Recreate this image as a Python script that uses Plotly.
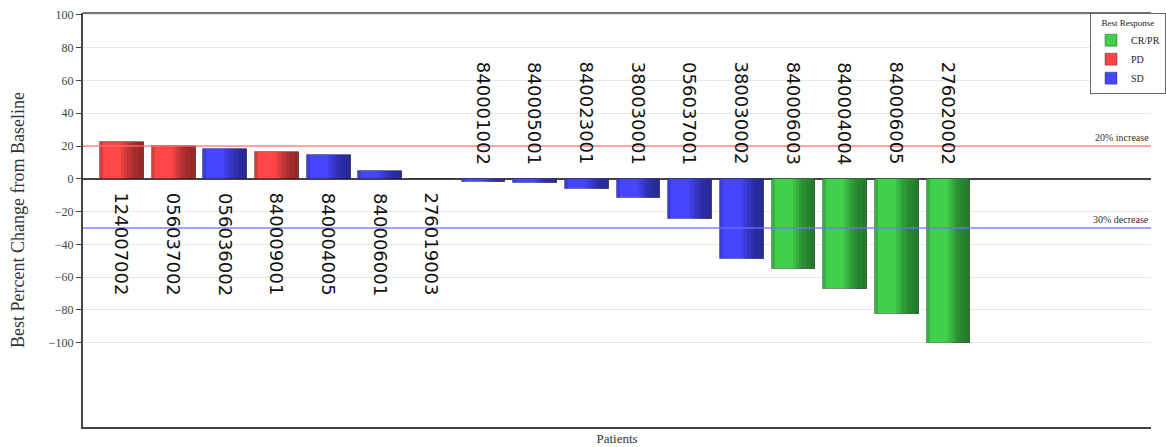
import plotly.graph_objects as go

patients = ["124007002", "056037002", "056036002", "840009001", "840004005",
            "840006001", "276019003", "840001002", "840005001", "840023001",
            "380030001", "056037001", "380030002", "840006003", "840004004",
            "840006005", "276020002"]
best_change = [22.5, 20, 18, 16.5, 14.5, 4.5, 0, -2, -2.5, -6, -12, -24.5,
               -49, -55, -67.5, -82.5, -100]
response = ["PD", "PD", "SD", "PD", "SD", "SD", "SD", "SD", "SD", "SD", "SD",
            "SD", "SD", "CR/PR", "CR/PR", "CR/PR", "CR/PR"]
legend_order = ["CR/PR", "PD", "SD"]
colors = {"CR/PR": "#40d04c", "PD": "#ff4646", "SD": "#4646ff"}
threshold_vals = [20, -30]
threshold_text = ["20% increase", "30% decrease"]
threshold_colors = ["rgba(255,110,110,0.8)", "rgba(110,110,255,0.85)"]

BW = 0.85
serif = "Liberation Serif, Times New Roman, serif"
pos = list(range(len(patients)))

fig = go.Figure()

# base bars, one trace per response group (for the legend)
for grp in legend_order:
    xs = [i for i, r in zip(pos, response) if r == grp]
    ys = [v for v, r in zip(best_change, response) if r == grp]
    names = [p for p, r in zip(patients, response) if r == grp]
    fig.add_trace(go.Bar(
        x=xs, y=ys, name=grp, width=BW, customdata=names,
        marker=dict(color=colors[grp], line=dict(color="rgba(40,40,40,0.4)", width=1)),
        hovertemplate="%{customdata}: %{y}<extra>" + grp + "</extra>",
    ))

# shading strips to mimic the horizontal gradient of each bar
strips = [(0.0, 0.07, 0.14), (0.48, 1.0, 0.08), (0.55, 1.0, 0.09), (0.62, 1.0, 0.10),
          (0.70, 1.0, 0.09), (0.78, 1.0, 0.07), (0.88, 1.0, 0.04)]
for f0, f1, a in strips:
    fig.add_trace(go.Bar(
        x=pos, y=best_change, width=BW * (f1 - f0), offset=-BW / 2 + BW * f0,
        marker=dict(color=f"rgba(0,0,0,{a})", line=dict(width=0)),
        showlegend=False, hoverinfo="skip",
    ))

# threshold lines and their labels
for val, txt, col in zip(threshold_vals, threshold_text, threshold_colors):
    fig.add_shape(type="line", xref="paper", yref="y", x0=0, x1=1, y0=val, y1=val,
                  line=dict(color=col, width=1.5), layer="above")
    fig.add_annotation(xref="paper", yref="y", x=1.0, y=val, text=txt, showarrow=False,
                       xanchor="right", yanchor="bottom", yshift=1,
                       font=dict(family=serif, size=10, color="#333"))

# rotated patient labels next to the zero line
for i, p, v in zip(pos, patients, best_change):
    below = v >= 0
    fig.add_annotation(x=i, y=0, xref="x", yref="y", text=p, showarrow=False,
                       textangle=90,
                       yanchor="top" if below else "bottom",
                       yshift=-12 if below else 12,
                       font=dict(family="DejaVu Sans", size=18, color="#111"))

fig.update_layout(
    width=1166, height=447,
    margin=dict(l=83, r=0, t=13, b=20, pad=0),
    paper_bgcolor="white", plot_bgcolor="white",
    barmode="overlay", bargap=0,
    font=dict(family=serif, color="#333"),
    legend=dict(
        x=0.943, y=1.0, xanchor="left", yanchor="top",
        bordercolor="#666", borderwidth=1, bgcolor="white",
        font=dict(family=serif, size=10, color="#222"),
        title=dict(text="Best Response", font=dict(family=serif, size=9, color="#222"),
                   side="top center"),
        tracegroupgap=0, itemwidth=30,
    ),
    xaxis=dict(
        range=[-0.753, 19.92], showticklabels=False, ticks="", automargin=False,
        showgrid=False, zeroline=False, showline=True, linecolor="#444", linewidth=2,
        title=dict(text="Patients", font=dict(family=serif, size=13, color="#333"), standoff=6),
    ),
    yaxis=dict(
        range=[-151.5, 101.2], tickvals=list(range(-100, 101, 20)), automargin=False,
        ticks="outside", ticklen=5, tickcolor="#444", tickwidth=1,
        tickfont=dict(family=serif, size=12, color="#444"),
        showgrid=True, gridcolor="#e8e8e8", gridwidth=1,
        zeroline=True, zerolinecolor="#444", zerolinewidth=1.5,
        showline=True, linecolor="#444", linewidth=2, mirror=False,
        title=dict(text="Best Percent Change from Baseline",
                   font=dict(family=serif, size=18, color="#333"), standoff=20),
    ),
)
# top border of the plot area
fig.add_shape(type="line", xref="paper", yref="paper", x0=0, x1=1, y0=1, y1=1,
              line=dict(color="#444", width=1.5))

fig.write_html("out.html")
